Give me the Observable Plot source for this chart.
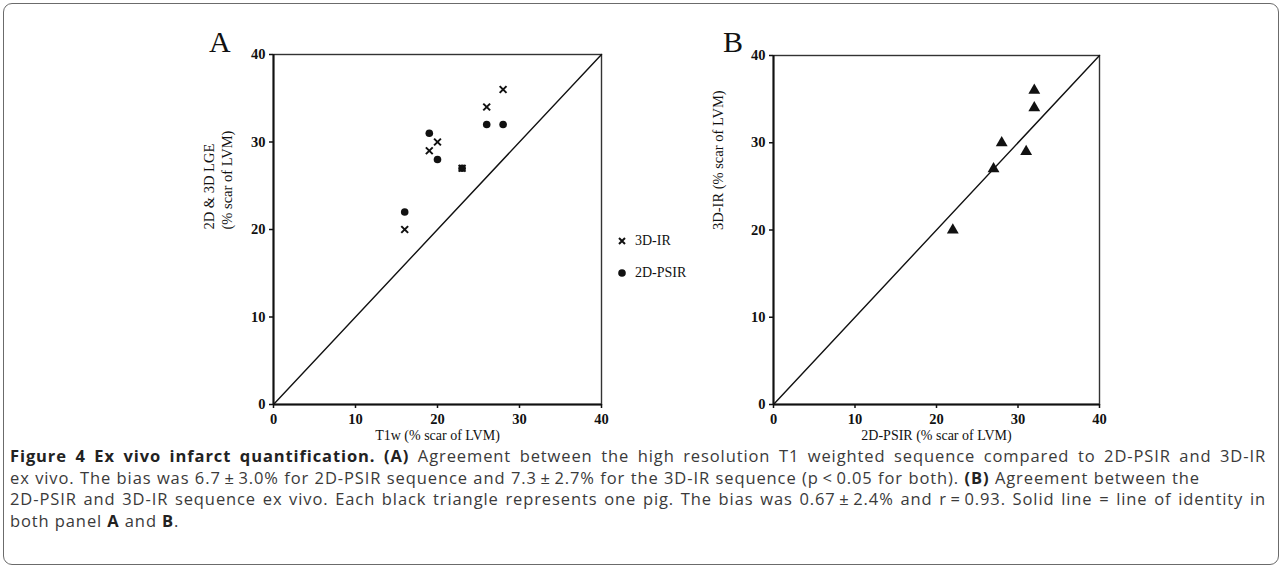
<!DOCTYPE html>
<html>
<head>
<meta charset="utf-8">
<script src="https://cdn.jsdelivr.net/npm/d3@7"></script>
<script src="https://cdn.jsdelivr.net/npm/@observablehq/plot@0.6"></script>
<style>
  html, body { margin: 0; padding: 0; background: #fff; }
  body { width: 1282px; height: 569px; position: relative; overflow: hidden; }
  #frame { position: absolute; left: 3px; top: 3px; width: 1274px; height: 560px; border: 1.5px solid #6b6b6b; border-radius: 9px; }
  .panel { position: absolute; }
  .letter { position: absolute; font-family: "Liberation Serif", serif; font-size: 30px; line-height: 30px; color: #111; }
  .legend { position: absolute; font-family: "Liberation Serif", serif; font-size: 14px; color: #111; display: flex; align-items: center; }
  .legend svg { margin-right: 8px; }
  #caption { position: absolute; left: 10px; top: 445px; font-family: "Open Sans", sans-serif; font-size: 16.5px; line-height: 21.5px; color: #3a3a3a; letter-spacing: 0.9px; }
  #caption .ln { white-space: nowrap; text-align: justify; text-align-last: justify; }
  #caption .ln.last { text-align-last: left; }
  #caption b { color: #222; }
</style>
</head>
<body>
<div id="frame"></div>
<div id="panelA" class="panel" style="left:200px;top:20px"></div>
<div id="panelB" class="panel" style="left:700px;top:20px"></div>
<div class="letter" style="left:209px;top:27px">A</div>
<div class="letter" style="left:723px;top:27px">B</div>
<div id="legend"></div>
<div id="caption">
<div class="ln" style="width:1256px"><b>Figure 4 Ex vivo infarct quantification. (A)</b> Agreement between the high resolution T1 weighted sequence compared to 2D-PSIR and 3D-IR</div>
<div class="ln" style="width:1190px">ex vivo. The bias was 6.7&thinsp;±&thinsp;3.0% for 2D-PSIR sequence and 7.3&thinsp;±&thinsp;2.7% for the 3D-IR sequence (p&thinsp;&lt;&thinsp;0.05 for both). <b>(B)</b> Agreement between the</div>
<div class="ln" style="width:1256px">2D-PSIR and 3D-IR sequence ex vivo. Each black triangle represents one pig. The bias was 0.67&thinsp;±&thinsp;2.4% and r&thinsp;=&thinsp;0.93. Solid line = line of identity in</div>
<div class="ln last">both panel <b>A</b> and <b>B</b>.</div>
</div>
<script>
// ---- data ----
const t1w      = [16, 19, 20, 23, 26, 28];
const ir3d     = [20, 29, 30, 27, 34, 36];
const psir2d   = [22, 31, 28, 27, 32, 32];
const ticks    = [0, 10, 20, 30, 40];
const identity = [0, 40];
const seriesNames = ["3D-IR", "2D-PSIR"];

const ptsIR   = t1w.map((x, i) => ({x, y: ir3d[i]}));
const ptsPSIR = t1w.map((x, i) => ({x, y: psir2d[i]}));
const ptsB    = psir2d.map((x, i) => ({x, y: ir3d[i]}));
const idLine  = identity.map(v => ({x: v, y: v}));

const serif = "Liberation Serif, Times New Roman, serif";

function panel({points, xLabel, yLabel, marginTop, marginRight, yLabelDx}) {
  return Plot.plot({
    width: 420, height: 430,
    marginLeft: 73, marginRight, marginTop, marginBottom: 46,
    style: {fontFamily: serif, color: "#111", background: "transparent", overflow: "visible"},
    x: {domain: [0, 40]},
    y: {domain: [0, 40]},
    marks: [
      Plot.frame({stroke: "#333", strokeWidth: 1.4}),
      Plot.line(idLine, {x: "x", y: "y", stroke: "#111", strokeWidth: 1.4}),
      ...points,
      Plot.ruleY([0], {stroke: "#111", strokeWidth: 2}),
      Plot.ruleX([0], {stroke: "#111", strokeWidth: 2}),
      Plot.axisX({ticks, tickSize: 4, tickPadding: 5, fontSize: 14.5, fontWeight: "bold", label: null, stroke: "#111", strokeWidth: 1.5}),
      Plot.axisY({ticks, tickSize: 4, tickPadding: 4, fontSize: 14.5, fontWeight: "bold", label: null, stroke: "#111", strokeWidth: 1.5}),
      Plot.text([xLabel], {frameAnchor: "bottom", dy: 35, fontSize: 14, fill: "#111"}),
      Plot.text([yLabel], {frameAnchor: "left", rotate: -90, dx: yLabelDx, fontSize: 14.5, fill: "#111", lineHeight: 1.25})
    ]
  });
}

document.getElementById("panelA").appendChild(panel({
  marginTop: 34, marginRight: 19, yLabelDx: -56,
  xLabel: "T1w (% scar of LVM)",
  yLabel: "2D & 3D LGE\n(% scar of LVM)",
  points: [
    Plot.dot(ptsPSIR, {x: "x", y: "y", r: 3.8, fill: "#111", stroke: "none"}),
    Plot.dot(ptsIR, {x: "x", y: "y", symbol: "times", r: 3.2, stroke: "#111", strokeWidth: 2})
  ]
}));

document.getElementById("panelB").appendChild(panel({
  marginTop: 35, marginRight: 21, yLabelDx: -56,
  xLabel: "2D-PSIR (% scar of LVM)",
  yLabel: "3D-IR (% scar of LVM)",
  points: [
    Plot.dot(ptsB, {x: "x", y: "y", symbol: "triangle", r: 4.4, fill: "#111", stroke: "none"})
  ]
}));

// legend for panel A
const legend = document.getElementById("legend");
const legendSymbols = [
  '<svg width="10" height="10"><path d="M2,2L8,8M8,2L2,8" stroke="#111" stroke-width="2"/></svg>',
  '<svg width="10" height="10"><circle cx="5" cy="5" r="3.8" fill="#111"/></svg>'
];
seriesNames.forEach((name, i) => {
  const d = document.createElement("div");
  d.className = "legend";
  d.style.left = "617px";
  d.style.top = (233 + i * 32) + "px";
  d.innerHTML = legendSymbols[i] + "<span>" + name + "</span>";
  legend.appendChild(d);
});
</script>
</body>
</html>
